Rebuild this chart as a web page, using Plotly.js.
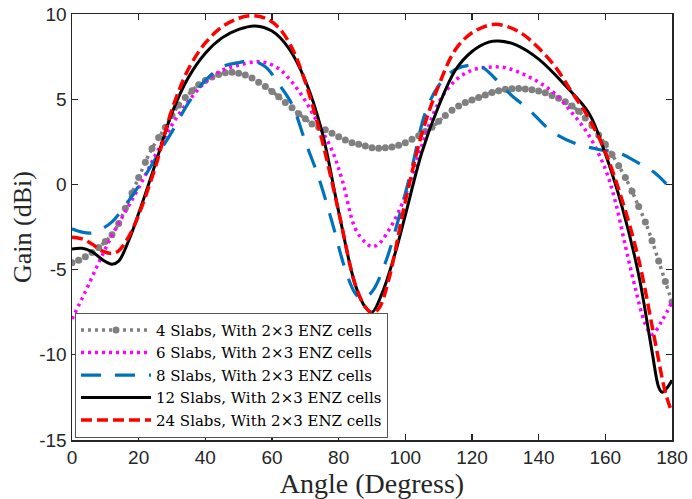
<!DOCTYPE html>
<html>
<head>
<meta charset="utf-8">
<script src="https://cdn.plot.ly/plotly-3.0.1.min.js"></script>
<style>html,body{margin:0;padding:0;background:#fff;}#chart{width:692px;height:499px;}</style>
</head>
<body>
<div id="chart"></div>
<script>
// Series names
const names = [
  "4 Slabs, With 2×3 ENZ cells",
  "6 Slabs, With 2×3 ENZ cells",
  "8 Slabs, With 2×3 ENZ cells",
  "12 Slabs, With 2×3 ENZ cells",
  "24 Slabs, With 2×3 ENZ cells"
];

// 4 slabs (sampled every 2 degrees, with markers)
const angle4 = [0,2,4,6,8,10,12,14,16,18,20,22,24,26,28,30,32,34,36,38,40,42,44,46,48,50,52,54,56,58,60,62,64,66,68,70,72,74,76,78,80,82,84,86,88,90,92,94,96,98,100,102,104,106,108,110,112,114,116,118,120,122,124,126,128,130,132,134,136,138,140,142,144,146,148,150,152,154,156,158,160,162,164,166,168,170,172,174,176,178,180];
const gain4 = [-4.6,-4.45,-4.25,-4.0,-3.7,-3.35,-2.95,-2.3,-1.4,-0.5,0.4,1.3,2.1,2.75,3.35,4.05,4.65,5.1,5.5,5.85,6.1,6.3,6.45,6.55,6.58,6.52,6.42,6.25,6.0,5.75,5.45,5.15,4.8,4.5,4.15,3.85,3.55,3.35,3.2,3.0,2.8,2.6,2.45,2.35,2.25,2.15,2.12,2.15,2.2,2.3,2.45,2.65,2.85,3.1,3.35,3.7,4.05,4.35,4.6,4.8,4.95,5.1,5.25,5.4,5.5,5.58,5.62,5.63,5.6,5.55,5.48,5.38,5.22,5.05,4.85,4.6,4.3,3.9,3.45,2.9,2.35,1.75,1.1,0.4,-0.4,-1.3,-2.2,-3.3,-4.5,-5.7,-6.9];

// 6 slabs
const angle6 = [0,4,8,12,16,20,25,30,35,40,45,50,55,58,62,66,70,74,78,81,85,88,90,92,95,98,101,105,110,115,120,125,130,135,140,145,150,155,160,163,166,169,172,174,177,180];
const gain6 = [-7.9,-6.3,-4.6,-3.0,-1.6,-0.2,1.7,3.5,4.9,6.0,6.7,7.0,7.2,7.15,6.8,6.0,4.9,3.5,2.0,0.3,-2.6,-3.4,-3.65,-3.5,-2.7,-1.6,-0.1,2.3,4.8,6.1,6.7,6.88,6.85,6.5,6.0,5.3,4.2,2.9,0.9,-1.0,-3.6,-6.1,-8.2,-8.8,-8.0,-6.9];

// 8 slabs
const angle8 = [0,3,6,9,12,15,20,25,30,35,40,45,50,54,58,62,66,70,74,78,82,85,87,90,94,98,102,106,110,115,120,123,127,132,137,144,151,158,164,170,175,180];
const gain8 = [-2.6,-2.8,-2.85,-2.6,-2.2,-1.5,-0.1,1.5,3.1,4.8,6.1,6.9,7.15,7.25,6.9,5.9,4.7,2.5,0.4,-2.2,-5.0,-6.4,-6.7,-6.3,-4.6,-2.0,1.0,4.2,5.8,6.75,7.0,6.9,6.2,5.2,4.4,3.1,2.4,2.05,1.85,1.25,0.65,-0.35];

// 12 slabs
const angle12 = [0,3,6,9,12,14,17,20,25,30,35,40,45,50,55,60,65,70,75,80,85,88,90,93,97,100,105,110,115,120,125,128,133,140,148,155,160,165,170,174,176,177,178.5,180];
const gain12 = [-3.8,-3.75,-3.95,-4.4,-4.68,-4.5,-3.3,-1.7,1.2,4.2,6.3,7.7,8.6,9.1,9.3,9.0,8.0,6.1,3.1,-1.6,-5.9,-7.2,-7.5,-6.4,-4.0,-1.8,1.9,4.6,6.7,7.8,8.35,8.42,8.2,7.35,5.8,4.2,1.8,-1.3,-5.3,-9.8,-11.9,-12.2,-11.95,-11.5];

// 24 slabs
const angle24 = [0,3,6,9,12,14,16,18,20,25,30,35,40,45,50,54,58,62,66,70,75,80,85,88,90,92,95,100,105,110,115,120,126,130,135,140,145,150,155,160,165,170,175,178,180];
const gain24 = [-3.1,-3.2,-3.5,-3.9,-4.05,-3.9,-3.4,-2.7,-1.8,1.0,4.4,6.8,8.3,9.25,9.75,9.9,9.75,9.2,8.0,6.0,2.6,-1.6,-5.9,-7.2,-7.55,-7.3,-5.6,-1.0,3.0,5.8,7.9,8.9,9.38,9.3,8.85,8.0,6.9,5.4,3.9,1.9,-0.9,-4.4,-9.3,-12.2,-13.4];

const xTicks = [0,20,40,60,80,100,120,140,160,180];
const yTicks = [-15,-10,-5,0,5,10];

const traces = [
  {x: angle4, y: gain4, name: names[0], mode: 'lines+markers',
   line: {color: 'rgb(128,128,128)', width: 3.5, dash: '3px,4px', shape: 'spline'},
   marker: {symbol: 'circle', size: 7, color: 'rgb(128,128,128)'}},
  {x: angle6, y: gain6, name: names[1], mode: 'lines',
   line: {color: '#ff00ff', width: 3.5, dash: '3px,4px', shape: 'spline'}},
  {x: angle8, y: gain8, name: names[2], mode: 'lines',
   line: {color: 'rgb(0,114,189)', width: 3.2, dash: '20px,14px', shape: 'spline'}},
  {x: angle12, y: gain12, name: names[3], mode: 'lines',
   line: {color: '#000000', width: 3, shape: 'spline'}},
  {x: angle24, y: gain24, name: names[4], mode: 'lines',
   line: {color: '#ff0000', width: 3.5, dash: '11px,5px', shape: 'spline'}}
].map(t => Object.assign({type: 'scatter', hoverinfo: 'skip'}, t));

const axisCommon = {
  showline: true, mirror: 'ticks', linecolor: '#262626', linewidth: 1.5,
  ticks: 'inside', ticklen: 6, tickwidth: 1.2, tickcolor: '#262626',
  showgrid: false, zeroline: false,
  tickfont: {family: 'Liberation Sans, Arial, sans-serif', size: 19, color: '#262626'}
};

const layout = {
  width: 692, height: 499,
  margin: {l: 72, r: 20, t: 14, b: 59},
  paper_bgcolor: '#fff', plot_bgcolor: '#fff',
  showlegend: true,
  xaxis: Object.assign({}, axisCommon, {
    range: [0, 180], tickvals: xTicks, ticktext: xTicks.map(String),
    title: {text: 'Angle (Degress)', font: {family: 'Liberation Serif, Times New Roman, serif', size: 28, color: '#262626'}, standoff: 2}
  }),
  yaxis: Object.assign({}, axisCommon, {
    range: [-15, 10], tickvals: yTicks, ticktext: yTicks.map(String),
    title: {text: 'Gain (dBi)', font: {family: 'Liberation Serif, Times New Roman, serif', size: 26, color: '#262626'}, standoff: 0}
  }),
  legend: {
    x: 0.005, y: 0.005, xanchor: 'left', yanchor: 'bottom',
    bgcolor: '#ffffff', bordercolor: '#555555', borderwidth: 1,
    font: {family: 'DejaVu Serif, Liberation Serif, serif', size: 15, color: '#000'},
    itemwidth: 70, tracegroupgap: 0
  }
};

Plotly.newPlot('chart', traces, layout, {displayModeBar: false, staticPlot: true});
</script>
</body>
</html>
